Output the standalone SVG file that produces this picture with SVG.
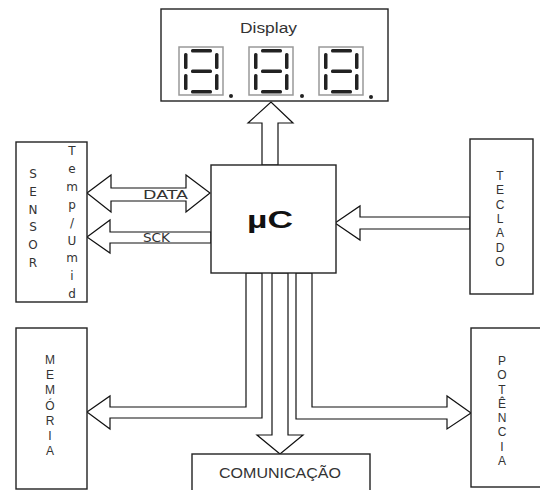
<svg xmlns="http://www.w3.org/2000/svg" width="540" height="490" viewBox="0 0 540 490">
<style>
.box{fill:#fff;stroke:#222;stroke-width:1.4}
.pipe{fill:#fff;stroke:#111;stroke-width:1.2;stroke-linejoin:miter}
.lbl{font-family:"Liberation Sans",Arial,sans-serif;fill:#333}
.vl{font-family:"Liberation Sans",Arial,sans-serif;fill:#333;font-size:12px;text-anchor:middle}
.vd{font-family:"DejaVu Sans",Verdana,sans-serif;fill:#333;font-size:12px;text-anchor:middle}
.seg{fill:#222}
.frame{fill:none;stroke:#999;stroke-width:1.5}
</style>
<defs>
<g id="digit">
<rect class="frame" x="0" y="0" width="44" height="48"/>
<rect class="seg" x="12" y="2" width="21" height="3.5" rx="1.5"/>
<rect class="seg" x="12" y="22.5" width="21" height="3.5" rx="1.5"/>
<rect class="seg" x="12" y="43" width="21" height="3.5" rx="1.5"/>
<rect class="seg" x="5" y="6" width="3.5" height="16" rx="1.5"/>
<rect class="seg" x="5" y="27" width="3.5" height="16" rx="1.5"/>
<rect class="seg" x="36" y="6" width="3.5" height="16" rx="1.5"/>
<rect class="seg" x="36" y="27" width="3.5" height="16" rx="1.5"/>
</g>
</defs>
<rect width="540" height="490" fill="#fff"/>
<g id="connectors">
<polygon class="pipe" points="262,165 262,123 248,123 271,102 293,123 278,123 278,165"/>
<polygon class="pipe" points="87,193 111,175 111,188 186,188 186,175 210,193 186,212 186,201 111,201 111,212"/>
<polygon class="pipe" points="87,237 110,220 110,232 211,232 211,243 110,243 110,253"/>
<polygon class="pipe" points="335,223 360,206 360,217 470,217 470,229 360,229 360,240"/>
<polygon class="pipe" points="87,412 110,396 110,407 246,407 246,273 262,273 262,418 110,418 110,429"/>
<polygon class="pipe" points="471,413 447,396 447,407 312,407 312,273 296,273 296,419 447,419 447,429"/>
<polygon class="pipe" points="280,454 257,435 272,435 272,273 288,273 288,435 303,435"/>
<text class="vd" x="143" y="199" text-anchor="start" textLength="45" lengthAdjust="spacingAndGlyphs" style="text-anchor:start">DATA</text>
<text class="vd" x="143" y="242" textLength="27" lengthAdjust="spacingAndGlyphs" style="text-anchor:start">SCK</text>
</g>
<g id="display">
<rect class="box" x="161" y="9" width="227" height="92"/>
<text class="lbl" x="240" y="33" font-size="14" textLength="57" lengthAdjust="spacingAndGlyphs">Display</text>
<use href="#digit" x="179" y="47"/>
<use href="#digit" x="249" y="47"/>
<use href="#digit" x="319" y="47"/>
<circle cx="231" cy="96" r="2" fill="#222"/>
<circle cx="302" cy="96" r="2" fill="#222"/>
<circle cx="371" cy="97" r="2" fill="#222"/>
</g>
<g id="uc">
<rect class="box" x="211" y="165" width="125" height="108"/>
<text x="247" y="228" font-family="Liberation Sans,Arial,sans-serif" font-weight="bold" font-size="24" fill="#111" textLength="46" lengthAdjust="spacingAndGlyphs">µC</text>
</g>
<g id="sensor">
<rect class="box" x="16" y="142" width="71" height="160"/>
<text class="vd" font-size="13"><tspan x="33" y="178">S</tspan><tspan x="33" y="196">E</tspan><tspan x="33" y="214">N</tspan><tspan x="33" y="231">S</tspan><tspan x="33" y="249">O</tspan><tspan x="33" y="267">R</tspan></text>
<text class="vd" font-size="13"><tspan x="72" y="155">T</tspan><tspan x="72" y="173">e</tspan><tspan x="72" y="191">m</tspan><tspan x="72" y="209">p</tspan><tspan x="72" y="227">/</tspan><tspan x="72" y="245">U</tspan><tspan x="72" y="262">m</tspan><tspan x="72" y="280">i</tspan><tspan x="72" y="298">d</tspan></text>
</g>
<g id="teclado">
<rect class="box" x="470" y="139" width="63" height="155"/>
<text class="vl"><tspan x="500" y="180">T</tspan><tspan x="500" y="194">E</tspan><tspan x="500" y="209">C</tspan><tspan x="500" y="223">L</tspan><tspan x="500" y="237">A</tspan><tspan x="500" y="252">D</tspan><tspan x="500" y="266">O</tspan></text>
</g>
<g id="memoria">
<rect class="box" x="16" y="328" width="71" height="161"/>
<text class="vl"><tspan x="50" y="364">M</tspan><tspan x="50" y="379">E</tspan><tspan x="50" y="394">M</tspan><tspan x="50" y="410">Ó</tspan><tspan x="50" y="425">R</tspan><tspan x="50" y="440">I</tspan><tspan x="50" y="455">A</tspan></text>
</g>
<g id="potencia">
<rect class="box" x="471" y="328" width="80" height="159"/>
<text class="vl"><tspan x="502" y="365">P</tspan><tspan x="502" y="379">O</tspan><tspan x="502" y="394">T</tspan><tspan x="502" y="408">Ê</tspan><tspan x="502" y="422">N</tspan><tspan x="502" y="436">C</tspan><tspan x="502" y="451">I</tspan><tspan x="502" y="465">A</tspan></text>
</g>
<g id="comunicacao">
<rect class="box" x="192" y="454" width="178" height="50"/>
<text class="lbl" x="219" y="478" font-size="14" textLength="122" lengthAdjust="spacingAndGlyphs">COMUNICAÇÃO</text>
</g>
</svg>
